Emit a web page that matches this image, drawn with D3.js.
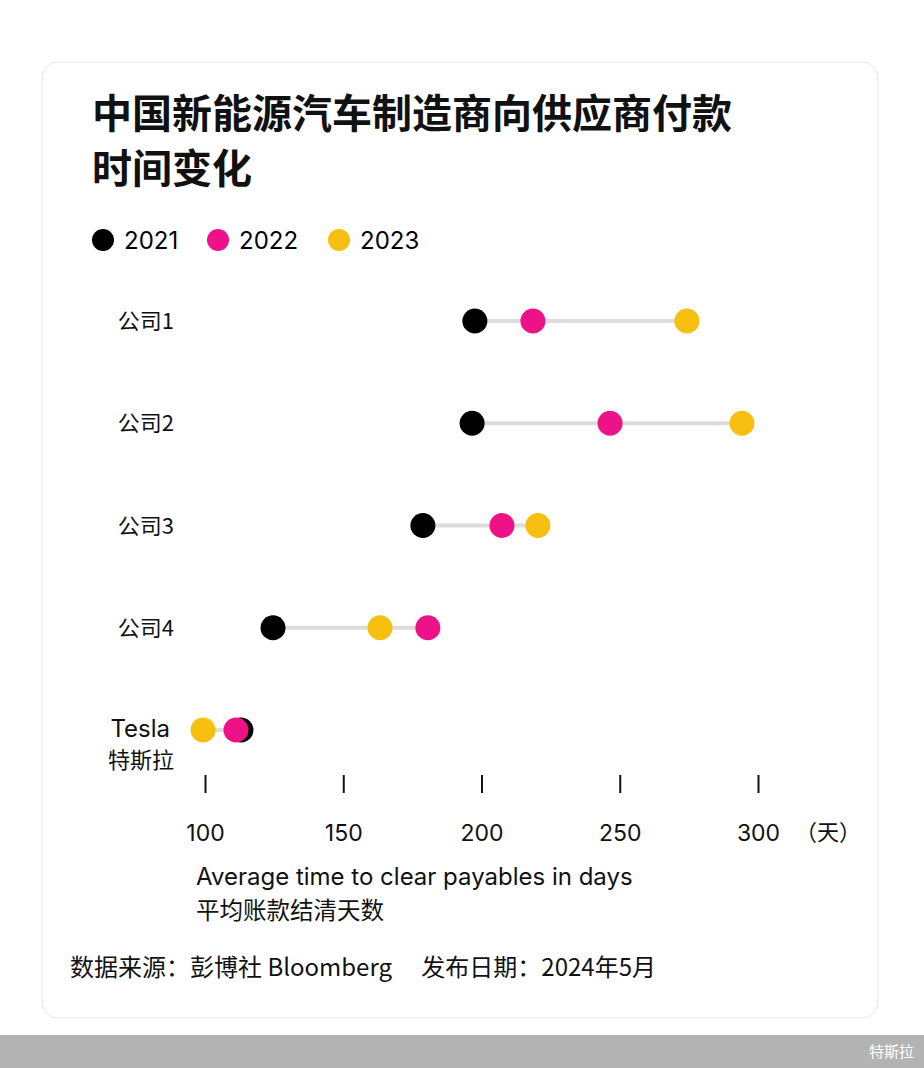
<!DOCTYPE html>
<html><head><meta charset="utf-8">
<script src="https://cdn.jsdelivr.net/npm/d3@7"></script>
<style>body{margin:0;background:#fff;font-family:"Noto Sans CJK SC","Noto Sans",sans-serif;}</style>
</head><body><svg id="c" width="924" height="1068"></svg>
<script>
const companies = ["公司1","公司2","公司3","公司4","Tesla"];
const years = ["2021","2022","2023"];
const colors = ["#000000","#ee1289","#f7bf0f"];
const v2021 = [197.6,196.6,178.8,124.6,113];
const v2022 = [218.6,246.5,207.4,180.6,111.2];
const v2023 = [274.3,294.2,220.4,163.3,99.3];
const ticks = [100,150,200,250,300];
const series = [v2021,v2022,v2023];

const svg = d3.select("#c");
svg.append("rect").attr("x",42).attr("y",62).attr("width",836).attr("height",956).attr("rx",16)
  .attr("fill","#fff").attr("stroke","#e6e6e6");
svg.append("rect").attr("x",0).attr("y",1035).attr("width",924).attr("height",33).attr("fill","#b3b3b3");
svg.append("text").attr("x",914).attr("y",1057).attr("text-anchor","end").attr("fill","#fff").attr("font-size",15).text("特斯拉");

const t = svg.append("g").attr("font-weight",700).attr("font-size",40).attr("fill","#111");
t.append("text").attr("x",92).attr("y",128).text("中国新能源汽车制造商向供应商付款");
t.append("text").attr("x",92).attr("y",183).text("时间变化");

const lg = svg.append("g").attr("font-size",24);
[[103,"2021"],[218,"2022"],[339,"2023"]].forEach((d,i)=>{
  lg.append("circle").attr("cx",d[0]).attr("cy",240).attr("r",11).attr("fill",colors[i]);
  lg.append("text").attr("x",d[0]+21).attr("y",249).attr("font-family","Inter,sans-serif").text(d[1]);
});

const x = d3.scaleLinear().domain([100,300]).range([205,758]);
const y = d3.scalePoint().domain(companies).range([321,730]);

companies.forEach((c,i)=>{
  const vals = series.map(s=>s[i]);
  svg.append("line").attr("x1",x(d3.min(vals))).attr("x2",x(d3.max(vals)))
    .attr("y1",y(c)).attr("y2",y(c)).attr("stroke","#dcdcdc").attr("stroke-width",4);
});
[2,0,1].forEach(k=>{
  companies.forEach((c,i)=>{
    svg.append("circle").attr("cx",x(series[k][i])).attr("cy",y(c)).attr("r",12.5).attr("fill",colors[k]);
  });
});

const lab = svg.append("g").attr("font-size",22).attr("text-anchor","end").attr("fill","#111");
companies.slice(0,4).forEach(c=>lab.append("text").attr("x",174).attr("y",y(c)+8).text(c));
lab.append("text").attr("x",170).attr("y",737).attr("font-family","Inter,sans-serif").attr("font-size",24).text("Tesla");
lab.append("text").attr("x",174).attr("y",768).text("特斯拉");

const ax = svg.append("g").attr("transform","translate(0,775)")
  .call(d3.axisBottom(x).tickValues(ticks).tickSize(18).tickPadding(32));
ax.select(".domain").remove();
ax.selectAll(".tick line").attr("stroke","#111").attr("stroke-width",2);
ax.selectAll(".tick text").attr("font-size",23).attr("fill","#111").attr("font-family","Inter,sans-serif");
svg.append("text").attr("x",795).attr("y",840).attr("font-size",22).attr("fill","#111").text("（天）");

svg.append("text").attr("x",196).attr("y",885).attr("font-size",24).attr("fill","#111").attr("font-family","Inter,sans-serif").text("Average time to clear payables in days");
svg.append("text").attr("x",196).attr("y",919).attr("font-size",23.5).attr("fill","#111").text("平均账款结清天数");
svg.append("text").attr("x",70).attr("y",976).attr("font-size",24).attr("fill","#111").text("数据来源：彭博社 Bloomberg　 发布日期：2024年5月");
</script></body></html>
